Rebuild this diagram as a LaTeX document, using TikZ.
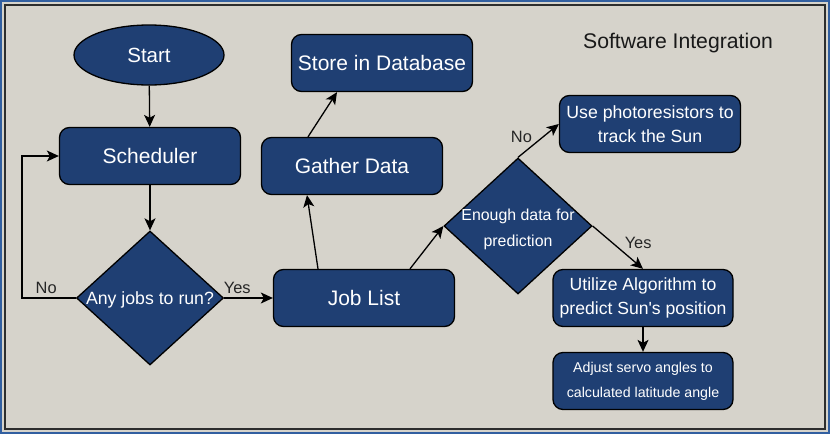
\documentclass[tikz,border=0pt]{standalone}
\usepackage{fontspec}
\setmainfont{Liberation Sans}
\usepackage{xcolor}
\usetikzlibrary{shapes.geometric, arrows.meta}

\definecolor{boxblue}{RGB}{31,63,115}
\definecolor{paper}{RGB}{214,211,203}
\definecolor{frameblue}{RGB}{50,95,160}
\definecolor{framedark}{RGB}{45,45,45}

\begin{document}
\begin{tikzpicture}[x=1pt, y=-1pt, >={Stealth[length=12pt, width=11pt, inset=3pt]},
    box/.style={draw=black, line width=1.3pt, fill=boxblue, rounded corners=10pt,
        minimum width=181pt, minimum height=57pt, inner sep=0pt, text=white,
        align=center, font=\fontsize{21}{25}\selectfont},
    decide/.style={diamond, draw=black, line width=1.3pt, fill=boxblue, inner sep=0pt},
    dtext/.style={text=white, align=center, inner sep=0pt},
    lbl/.style={font=\fontsize{16.4}{18}\selectfont, text=black!85},
    link/.style={->, line width=1.3pt}]

    % 1. Nen va khung
    \fill[paper] (0,0) rectangle (830,434);
    \draw[frameblue, line width=1.5pt] (1,1) rectangle (829,433);
    \draw[framedark, line width=1.5pt] (5,5) rectangle (825,429);
    \useasboundingbox (0,0) rectangle (830,434);

    % 2. Cot trai: Start -> Scheduler -> Any jobs
    \node[ellipse, draw=black, line width=1.3pt, fill=boxblue, text=white,
        minimum width=150pt, minimum height=60pt, inner sep=0pt,
        font=\fontsize{20.5}{24}\selectfont] (start) at (149,55) {Start};
    \node[box] (scheduler) at (150,156) {Scheduler};
    \node[decide, minimum width=147pt, minimum height=134pt,
        label={[dtext, font=\fontsize{17.7}{21}\selectfont, yshift=-2pt]center:Any jobs to run?}]
        (anyjobs) at (150,298) {};

    % 3. Cot giua
    \node[box] (joblist) at (364,298) {Job List};
    \node[box] (gather) at (352,166) {Gather Data};
    \node[box] (store) at (382,63) {Store in Database};

    % 4. Cot phai
    \node[decide, minimum width=148pt, minimum height=136pt,
        label={[dtext, font=\fontsize{15.9}{26}\selectfont, yshift=-3pt]center:{Enough data for\\prediction}}]
        (enough) at (518,226) {};
    \node[box, font=\fontsize{17.7}{24.5}\selectfont] (photo) at (650,124)
        {Use photoresistors to\\track the Sun};
    \node[box, font=\fontsize{17.6}{24}\selectfont, minimum width=180pt] (utilize) at (643,298)
        {Utilize Algorithm to\\predict Sun\textquotesingle s position};
    \node[box, font=\fontsize{14.2}{25}\selectfont, minimum width=180pt] (adjust) at (643,381)
        {Adjust servo angles to\\calculated latitude angle};

    % 5. Tieu de
    \node[font=\fontsize{21.2}{25}\selectfont, text=black!90] (title) at (678,43) {Software Integration};

    % 6. Cac mui ten
    \draw[link] (start) -- (scheduler);
    \draw[link] (scheduler) -- (anyjobs);
    \draw[link] (anyjobs.east) -- node[lbl, above, pos=0.27] {Yes} (joblist.west);
    \draw[link] (anyjobs.west) -- node[lbl, above, pos=0.55] {No} ++(-54,0) |- (scheduler.west);
    \draw[link] ([xshift=-46pt]joblist.north) -- ([xshift=-45pt]gather.south);
    \draw[link] ([xshift=-44pt]gather.north) -- ([xshift=-45pt]store.south);
    \draw[link] ([xshift=46pt]joblist.north) -- (enough.west);
    \draw[link] (enough.north) -- node[lbl, above left, pos=0.38, inner sep=1pt] {No} (photo.west);
    \draw[link] (enough.east) -- node[lbl, right, pos=0.4, xshift=8pt] {Yes} (utilize.north);
    \draw[link] (utilize) -- (adjust);

\end{tikzpicture}
\end{document}
